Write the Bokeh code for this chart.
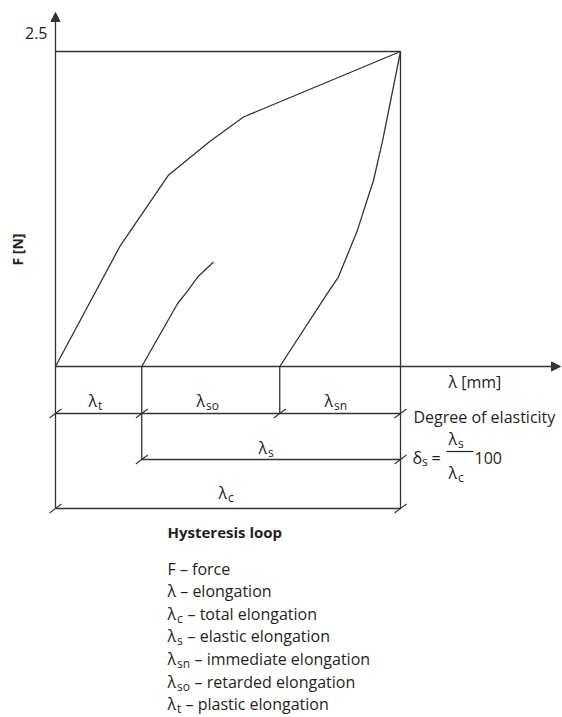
import math
from bokeh.plotting import figure
from bokeh.models import Range1d, Arrow, NormalHead
from bokeh.core.properties import value
from bokeh.embed import file_html
from bokeh.resources import INLINE

# ---------------- data (elongation in mm, force in N) ----------------
lambda_c = 10.0          # total elongation
lambda_t_end = 2.5       # end of plastic elongation
lambda_sn_start = 6.5    # start of immediate elongation
F_max = 2.5

load_x = [0.0, 1.88, 3.28, 3.91, 4.49, 5.45, 10.0]
load_F = [0.0, 0.96, 1.52, 1.66, 1.79, 1.98, 2.5]

unload_x = [10.0, 9.48, 9.22, 8.75, 8.20, 7.88, 6.5]
unload_F = [2.5, 1.79, 1.48, 1.08, 0.71, 0.58, 0.0]

recovery_x = [2.5, 3.54, 3.83, 4.12, 4.58]
recovery_F = [0.0, 0.50, 0.60, 0.71, 0.83]

y_tick_label = "2.5"
x_label = "λ [mm]"
y_label = "F [N]"
title = "Hysteresis loop"
legend_items = [
    ("F", "", "– force"),
    ("λ", "", "– elongation"),
    ("λ", "c", "– total elongation"),
    ("λ", "s", "– elastic elongation"),
    ("λ", "sn", "– immediate elongation"),
    ("λ", "so", "– retarded elongation"),
    ("λ", "t", "– plastic elongation"),
]

# ---------------- layout ----------------
W, H = 562, 717
PX_MM, PX_N = 34.5, 126.0
X0, Y0 = 55.0, 366.0          # page pixel of the origin


def X(px):
    return (px - X0) / PX_MM


def Y(py):
    return (Y0 - py) / PX_N


LINE = "#333333"
TXT = "#231f20"
FONT = value("Open Sans")

p = figure(width=W, height=H, output_backend="svg", toolbar_location=None,
           x_range=Range1d(X(0), X(W)), y_range=Range1d(Y(H), Y(0)),
           x_axis_type=None, y_axis_type=None, min_border=0)
p.outline_line_color = None
p.background_fill_color = "white"
p.border_fill_color = "white"

lw = 1.3

# axes with arrows
p.add_layout(Arrow(end=NormalHead(size=9, fill_color=LINE, line_color=LINE, line_width=1),
                   x_start=0, y_start=0, x_end=X(560), y_end=0,
                   line_color=LINE, line_width=lw))
p.add_layout(Arrow(end=NormalHead(size=9, fill_color=LINE, line_color=LINE, line_width=1),
                   x_start=0, y_start=0, x_end=0, y_end=Y(12),
                   line_color=LINE, line_width=lw))

# bounding lines of the loop
p.line([0, lambda_c], [F_max, F_max], line_color=LINE, line_width=lw)
row1, row2, row3 = Y(413), Y(459), Y(508)
p.line([lambda_c, lambda_c], [F_max, row3], line_color=LINE, line_width=lw)
p.line([0, 0], [0, row3], line_color=LINE, line_width=lw)
p.line([lambda_t_end, lambda_t_end], [0, row2], line_color=LINE, line_width=lw)
p.line([lambda_sn_start, lambda_sn_start], [0, row1], line_color=LINE, line_width=lw)

# curves
p.line(load_x, load_F, line_color=LINE, line_width=lw)
p.line(unload_x, unload_F, line_color=LINE, line_width=lw)
p.line(recovery_x, recovery_F, line_color=LINE, line_width=lw)

# dimension lines
p.line([0, lambda_c], [row1, row1], line_color=LINE, line_width=lw)
p.line([lambda_t_end, lambda_c], [row2, row2], line_color=LINE, line_width=lw)
p.line([0, lambda_c], [row3, row3], line_color=LINE, line_width=lw)

ticks = [(0, row1), (lambda_t_end, row1), (lambda_sn_start, row1), (lambda_c, row1),
         (lambda_t_end, row2), (lambda_c, row2), (0, row3), (lambda_c, row3)]
dx, dy = 6 / PX_MM, 4.5 / PX_N
p.segment(x0=[t[0] - dx for t in ticks], y0=[t[1] - dy for t in ticks],
          x1=[t[0] + dx for t in ticks], y1=[t[1] + dy for t in ticks],
          line_color=LINE, line_width=1.1)


def txt(px, py, s, size=16, bold=False, align="left", baseline="alphabetic", angle=0.0):
    p.text(x=[X(px)], y=[Y(py)], text=[s], text_font=FONT,
           text_font_size=f"{size}px", text_font_style="bold" if bold else "normal",
           text_align=align, text_baseline=baseline, text_color=TXT, angle=angle)


def lam(px, py, sub, size=16, subsize=12):
    txt(px, py, "λ", size)
    txt(px + 9.5, py + 4.5, sub, subsize)


# axis texts
txt(47, 32, y_tick_label, 16, align="right")
txt(448, 381, x_label, 16)
txt(17, 249, y_label, 14, bold=True, align="center", baseline="middle", angle=math.pi / 2)

# dimension labels
lam(88, 400, "t")
lam(196, 400, "so")
lam(324, 400, "sn")
lam(258, 447, "s")
lam(218, 492, "c")

# degree of elasticity
txt(413, 416, "Degree of elasticity", 16)
txt(412, 457, "δ", 16)
txt(421.5, 461, "s", 12)
txt(431, 457, "=", 16)
p.line([X(446), X(473)], [Y(451), Y(451)], line_color=TXT, line_width=1.2)
lam(448, 438, "s")
lam(448, 472, "c")
txt(474, 457, "100", 16)

# title + legend
txt(167, 531, title, 15, bold=True)
rest_x = {"": None, "c": 187, "s": 187, "sn": 194, "so": 194, "t": 185}
for i, (sym, sub, rest) in enumerate(legend_items):
    by = 568 + i * 22.6
    if sub == "":
        txt(167, by, f"{sym} {rest}", 16)
    else:
        lam(167, by, sub)
        txt(rest_x[sub], by, rest, 16)

open("out.html", "w").write(file_html(p, INLINE))
